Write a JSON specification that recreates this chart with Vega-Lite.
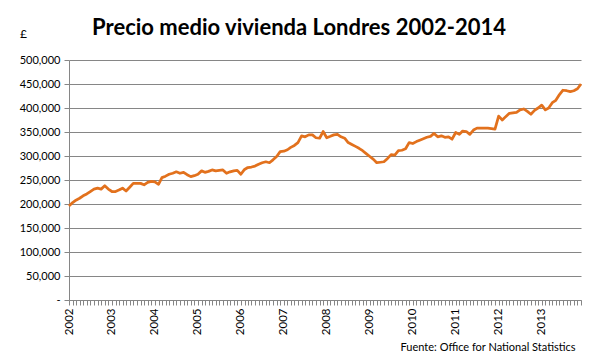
{
  "$schema": "https://vega.github.io/schema/vega-lite/v6.json",
  "width": 512,
  "height": 240,
  "autosize": {"type": "none"},
  "padding": {"left": 69, "top": 60, "right": 23, "bottom": 60},
  "background": "white",
  "title": {
    "text": "Precio medio vivienda Londres 2002-2014",
    "anchor": "middle",
    "dx": -26,
    "dy": 29,
    "fontSize": 22,
    "font": "Lato",
    "fontWeight": "bold",
    "color": "#000000",
    "offset": 16
  },
  "data": {
    "values": [
      {"date": "2002/01/01", "price": 196000}, {"date": "2002/02/01", "price": 203000}, {"date": "2002/03/01", "price": 208000}, {"date": "2002/04/01", "price": 212000},
      {"date": "2002/05/01", "price": 217000}, {"date": "2002/06/01", "price": 221000}, {"date": "2002/07/01", "price": 226000}, {"date": "2002/08/01", "price": 231000},
      {"date": "2002/09/01", "price": 233000}, {"date": "2002/10/01", "price": 231000}, {"date": "2002/11/01", "price": 238000}, {"date": "2002/12/01", "price": 231000},
      {"date": "2003/01/01", "price": 226000}, {"date": "2003/02/01", "price": 226000}, {"date": "2003/03/01", "price": 229000}, {"date": "2003/04/01", "price": 233000},
      {"date": "2003/05/01", "price": 227000}, {"date": "2003/06/01", "price": 235000}, {"date": "2003/07/01", "price": 243000}, {"date": "2003/08/01", "price": 243000},
      {"date": "2003/09/01", "price": 243000}, {"date": "2003/10/01", "price": 240000}, {"date": "2003/11/01", "price": 245000}, {"date": "2003/12/01", "price": 247000},
      {"date": "2004/01/01", "price": 246000}, {"date": "2004/02/01", "price": 241000}, {"date": "2004/03/01", "price": 255000}, {"date": "2004/04/01", "price": 258000},
      {"date": "2004/05/01", "price": 262000}, {"date": "2004/06/01", "price": 264000}, {"date": "2004/07/01", "price": 267000}, {"date": "2004/08/01", "price": 264000},
      {"date": "2004/09/01", "price": 266000}, {"date": "2004/10/01", "price": 261000}, {"date": "2004/11/01", "price": 257000}, {"date": "2004/12/01", "price": 259000},
      {"date": "2005/01/01", "price": 262000}, {"date": "2005/02/01", "price": 269000}, {"date": "2005/03/01", "price": 266000}, {"date": "2005/04/01", "price": 268000},
      {"date": "2005/05/01", "price": 271000}, {"date": "2005/06/01", "price": 269000}, {"date": "2005/07/01", "price": 270000}, {"date": "2005/08/01", "price": 271000},
      {"date": "2005/09/01", "price": 264000}, {"date": "2005/10/01", "price": 267000}, {"date": "2005/11/01", "price": 269000}, {"date": "2005/12/01", "price": 270000},
      {"date": "2006/01/01", "price": 262000}, {"date": "2006/02/01", "price": 272000}, {"date": "2006/03/01", "price": 276000}, {"date": "2006/04/01", "price": 277000},
      {"date": "2006/05/01", "price": 279000}, {"date": "2006/06/01", "price": 283000}, {"date": "2006/07/01", "price": 286000}, {"date": "2006/08/01", "price": 288000},
      {"date": "2006/09/01", "price": 286000}, {"date": "2006/10/01", "price": 292000}, {"date": "2006/11/01", "price": 299000}, {"date": "2006/12/01", "price": 309000},
      {"date": "2007/01/01", "price": 310000}, {"date": "2007/02/01", "price": 313000}, {"date": "2007/03/01", "price": 318000}, {"date": "2007/04/01", "price": 322000},
      {"date": "2007/05/01", "price": 328000}, {"date": "2007/06/01", "price": 342000}, {"date": "2007/07/01", "price": 340000}, {"date": "2007/08/01", "price": 344000},
      {"date": "2007/09/01", "price": 344000}, {"date": "2007/10/01", "price": 338000}, {"date": "2007/11/01", "price": 337000}, {"date": "2007/12/01", "price": 351000},
      {"date": "2008/01/01", "price": 338000}, {"date": "2008/02/01", "price": 341000}, {"date": "2008/03/01", "price": 344000}, {"date": "2008/04/01", "price": 345000},
      {"date": "2008/05/01", "price": 340000}, {"date": "2008/06/01", "price": 337000}, {"date": "2008/07/01", "price": 328000}, {"date": "2008/08/01", "price": 324000},
      {"date": "2008/09/01", "price": 320000}, {"date": "2008/10/01", "price": 316000}, {"date": "2008/11/01", "price": 311000}, {"date": "2008/12/01", "price": 305000},
      {"date": "2009/01/01", "price": 299000}, {"date": "2009/02/01", "price": 293000}, {"date": "2009/03/01", "price": 286000}, {"date": "2009/04/01", "price": 287000},
      {"date": "2009/05/01", "price": 288000}, {"date": "2009/06/01", "price": 295000}, {"date": "2009/07/01", "price": 303000}, {"date": "2009/08/01", "price": 302000},
      {"date": "2009/09/01", "price": 311000}, {"date": "2009/10/01", "price": 312000}, {"date": "2009/11/01", "price": 315000}, {"date": "2009/12/01", "price": 328000},
      {"date": "2010/01/01", "price": 326000}, {"date": "2010/02/01", "price": 330000}, {"date": "2010/03/01", "price": 333000}, {"date": "2010/04/01", "price": 336000},
      {"date": "2010/05/01", "price": 339000}, {"date": "2010/06/01", "price": 341000}, {"date": "2010/07/01", "price": 347000}, {"date": "2010/08/01", "price": 340000},
      {"date": "2010/09/01", "price": 342000}, {"date": "2010/10/01", "price": 339000}, {"date": "2010/11/01", "price": 340000}, {"date": "2010/12/01", "price": 335000},
      {"date": "2011/01/01", "price": 349000}, {"date": "2011/02/01", "price": 345000}, {"date": "2011/03/01", "price": 352000}, {"date": "2011/04/01", "price": 351000},
      {"date": "2011/05/01", "price": 345000}, {"date": "2011/06/01", "price": 354000}, {"date": "2011/07/01", "price": 358000}, {"date": "2011/08/01", "price": 358000},
      {"date": "2011/09/01", "price": 358000}, {"date": "2011/10/01", "price": 358000}, {"date": "2011/11/01", "price": 357000}, {"date": "2011/12/01", "price": 356000},
      {"date": "2012/01/01", "price": 383000}, {"date": "2012/02/01", "price": 375000}, {"date": "2012/03/01", "price": 382000}, {"date": "2012/04/01", "price": 389000},
      {"date": "2012/05/01", "price": 390000}, {"date": "2012/06/01", "price": 391000}, {"date": "2012/07/01", "price": 396000}, {"date": "2012/08/01", "price": 398000},
      {"date": "2012/09/01", "price": 393000}, {"date": "2012/10/01", "price": 387000}, {"date": "2012/11/01", "price": 395000}, {"date": "2012/12/01", "price": 400000},
      {"date": "2013/01/01", "price": 406000}, {"date": "2013/02/01", "price": 396000}, {"date": "2013/03/01", "price": 400000}, {"date": "2013/04/01", "price": 411000},
      {"date": "2013/05/01", "price": 416000}, {"date": "2013/06/01", "price": 428000}, {"date": "2013/07/01", "price": 437000}, {"date": "2013/08/01", "price": 436000},
      {"date": "2013/09/01", "price": 434000}, {"date": "2013/10/01", "price": 436000}, {"date": "2013/11/01", "price": 440000}, {"date": "2013/12/01", "price": 450000}
    ]
  },
  "mark": {"type": "line", "color": "#E2711D", "strokeWidth": 2.75, "strokeJoin": "round"},
  "encoding": {
    "x": {
      "field": "date",
      "type": "temporal",
      "scale": {"domain": ["2002/01/01", "2013/12/01"], "nice": false},
      "axis": {
        "tickCount": {"interval": "month", "step": 1},
        "labelExpr": "month(datum.value) == 0 ? timeFormat(datum.value, '%Y') : ''",
        "labelAngle": 270,
        "labelOverlap": false,
        "labelFont": "Lato",
        "labelFontSize": 11.5,
        "labelColor": "#000000",
        "labelPadding": 3,
        "labelBound": false,
        "labelFlush": false,
        "grid": false,
        "domainColor": "#868686",
        "tickColor": "#868686",
        "tickSize": 5,
        "title": "Fuente: Office for National Statistics",
        "titleFont": "Lato",
        "titleFontSize": 11,
        "titleFontWeight": "normal",
        "titleColor": "#000000",
        "titleAnchor": "end",
        "titleAlign": "right",
        "titleBaseline": "middle",
        "titleX": 506,
        "titleY": 47
      }
    },
    "y": {
      "field": "price",
      "type": "quantitative",
      "scale": {"domain": [0, 500000], "nice": false},
      "axis": {
        "values": [0, 50000, 100000, 150000, 200000, 250000, 300000, 350000, 400000, 450000, 500000],
        "labelExpr": "datum.value == 0 ? '-' : format(datum.value, ',')",
        "labelFont": "Lato",
        "labelFontSize": 11,
        "labelColor": "#000000",
        "labelPadding": 4,
        "grid": true,
        "gridColor": "#868686",
        "gridWidth": 1,
        "domainColor": "#868686",
        "tickColor": "#868686",
        "tickSize": 5,
        "title": "£",
        "titleFont": "Lato",
        "titleFontSize": 12,
        "titleFontWeight": "normal",
        "titleColor": "#000000",
        "titleAngle": 0,
        "titleAlign": "center",
        "titleBaseline": "middle",
        "titleX": -46,
        "titleY": -27
      }
    }
  },
  "config": {"view": {"stroke": null}}
}
